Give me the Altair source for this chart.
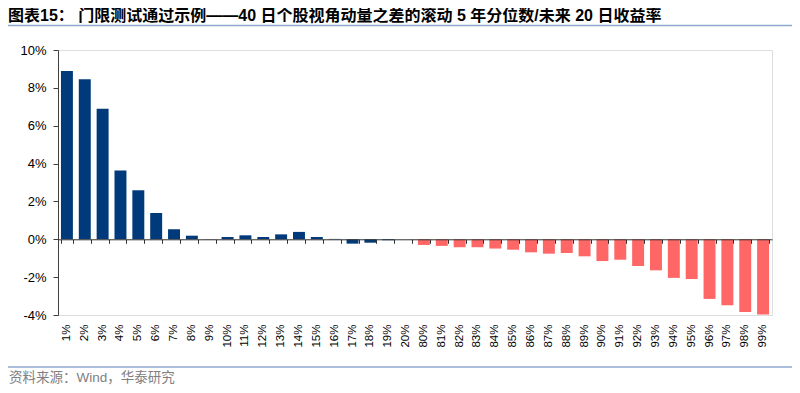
import altair as alt
import pandas as pd

categories = [f"{i}%" for i in range(1, 21)] + [f"{i}%" for i in range(80, 100)]
values = [8.89, 8.45, 6.90, 3.64, 2.59, 1.39, 0.53, 0.19, 0.01, 0.12,
          0.21, 0.12, 0.26, 0.39, 0.12, 0.02, -0.23, -0.18, -0.05, 0.0,
          -0.30, -0.35, -0.42, -0.42, -0.49, -0.55, -0.69, -0.76, -0.72, -0.90,
          -1.15, -1.08, -1.41, -1.64, -2.04, -2.10, -3.15, -3.49, -3.84, -3.98]
groups = ["低分位"] * 20 + ["高分位"] * 20
colors = ["#003A7A", "#FF6666"]

title_text = "图表15：  门限测试通过示例——40 日个股视角动量之差的滚动 5 年分位数/未来 20 日收益率"
source_text = "资料来源：Wind，华泰研究"

df = pd.DataFrame({"cat": categories, "val": values, "grp": groups})

W, H = 714, 265
YMIN, YMAX = -4, 10
zero_offset = -(H * (0 - YMIN) / (YMAX - YMIN))

LATIN = "'Liberation Sans', Arial, sans-serif"
MIXED = "'Liberation Sans', 'Noto Sans CJK SC', sans-serif"

xscale = alt.Scale(paddingInner=0.33, paddingOuter=0.165)
yscale = alt.Scale(domain=[YMIN, YMAX], nice=False, zero=False)


def yaxis():
    return alt.Axis(values=list(range(YMIN, YMAX + 1, 2)),
                    labelExpr="datum.value + '%'", grid=False,
                    domainColor="#404040", tickColor="#404040", tickSize=5,
                    labelPadding=7, labelFontSize=13, labelFont=LATIN,
                    labelColor="#000000")


labels_layer = alt.Chart(df).mark_bar(opacity=0).encode(
    x=alt.X("cat:N", sort=categories, scale=xscale, title=None,
            axis=alt.Axis(orient="bottom", labelAngle=270, ticks=False, domain=False,
                          labelPadding=9, labelFontSize=11.5, labelFont=LATIN,
                          labelColor="#000000", grid=False)),
    y=alt.Y("val:Q", scale=yscale, title=None, axis=yaxis()),
)

bars = alt.Chart(df).mark_bar().encode(
    x=alt.X("cat:N", sort=categories, scale=xscale, title=None,
            axis=alt.Axis(orient="bottom", offset=zero_offset, labels=False,
                          domain=True, ticks=True, tickBand="extent", tickSize=4,
                          domainColor="#303030", tickColor="#303030", grid=False,
                          zindex=1)),
    y=alt.Y("val:Q", scale=yscale, title=None, axis=yaxis()),
    color=alt.Color("grp:N", scale=alt.Scale(domain=["低分位", "高分位"], range=colors),
                    legend=None),
)

one = pd.DataFrame({"k": [0]})

title_mark = alt.Chart(one).mark_text(
    align="left", baseline="middle", fontSize=16, fontWeight="bold",
    font=MIXED, color="#000000"
).encode(x=alt.value(-50), y=alt.value(-34), text=alt.value(title_text))

head_rule = alt.Chart(one).mark_rule(color="#8EA9D0", strokeWidth=1.5).encode(
    x=alt.value(-50), x2=alt.value(735), y=alt.value(-24.5))

foot_rule = alt.Chart(one).mark_rule(color="#8EA9D0", strokeWidth=1.5).encode(
    x=alt.value(-50), x2=alt.value(734), y=alt.value(317))

source_mark = alt.Chart(one).mark_text(
    align="left", baseline="middle", fontSize=13.5, font=MIXED, color="#808080"
).encode(x=alt.value(-49), y=alt.value(328), text=alt.value(source_text))

chart = alt.layer(labels_layer, bars, title_mark, head_rule, foot_rule, source_mark).resolve_axis(
    x="independent"
).properties(
    width=W, height=H,
    autosize=alt.AutoSizeParams(type="none"),
    padding={"left": 50, "top": 42, "right": 20, "bottom": 70},
).configure_view(stroke=None).configure(background="white")

chart.save("out.html", embed_options={"renderer": "svg", "actions": False})
